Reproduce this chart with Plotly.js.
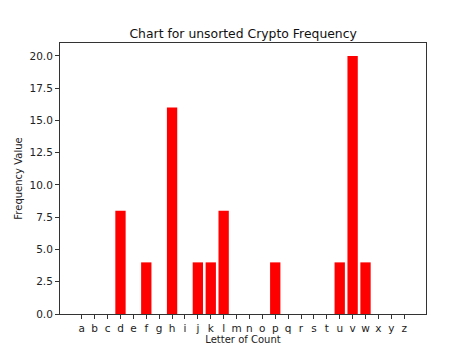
<!DOCTYPE html>
<html>
<head>
<meta charset="utf-8">
<script src="https://cdn.plot.ly/plotly-3.0.1.min.js"></script>
<style>html,body{margin:0;padding:0;background:#fff;}#chart{width:474px;height:353px;}</style>
</head>
<body>
<div id="chart"></div>
<script>
const letters = ["a","b","c","d","e","f","g","h","i","j","k","l","m","n","o","p","q","r","s","t","u","v","w","x","y","z"];
const frequencies = [0,0,0,8,0,4,0,16,0,4,4,8,0,0,0,4,0,0,0,0,4,20,4,0,0,0];
const yTicks = [0,2.5,5,7.5,10,12.5,15,17.5,20];

const font = "DejaVu Sans, sans-serif";
Plotly.newPlot("chart", [{
  type: "bar",
  x: letters,
  y: frequencies,
  width: 0.8,
  marker: {color: "#ff0000", line: {width: 0}},
  hoverinfo: "skip"
}], {
  width: 474, height: 353,
  margin: {l: 60, r: 48, t: 43, b: 39},
  paper_bgcolor: "#fff", plot_bgcolor: "#fff",
  font: {family: font, size: 10, color: "#222"},
  showlegend: false,
  title: {text: "Chart for unsorted Crypto Frequency", font: {family: font, size: 12.4, color: "#111"}, x: 0.513, xanchor: "center", y: 0.905, yanchor: "middle"},
  xaxis: {
    type: "category", range: [-1.69, 26.69],
    tickmode: "array", tickvals: letters, ticktext: letters, tickangle: 0,
    showline: true, mirror: true, linecolor: "#333", linewidth: 1,
    showgrid: false, zeroline: false,
    ticks: "outside", ticklen: 4, tickwidth: 1, tickcolor: "#333",
    tickfont: {family: font, size: 10.5, color: "#222"},
    title: {text: "Letter of Count", font: {family: font, size: 10, color: "#222"}, standoff: 3}
  },
  yaxis: {
    range: [0, 21],
    tickvals: yTicks, tickformat: ".1f",
    showline: true, mirror: true, linecolor: "#333", linewidth: 1,
    showgrid: false, zeroline: false,
    ticks: "outside", ticklen: 4, tickwidth: 1, tickcolor: "#333",
    tickfont: {family: font, size: 10.5, color: "#222"},
    title: {text: "Frequency Value", font: {family: font, size: 10, color: "#222"}, standoff: 5}
  },
  bargap: 0.2
}, {staticPlot: true});
</script>
</body>
</html>
